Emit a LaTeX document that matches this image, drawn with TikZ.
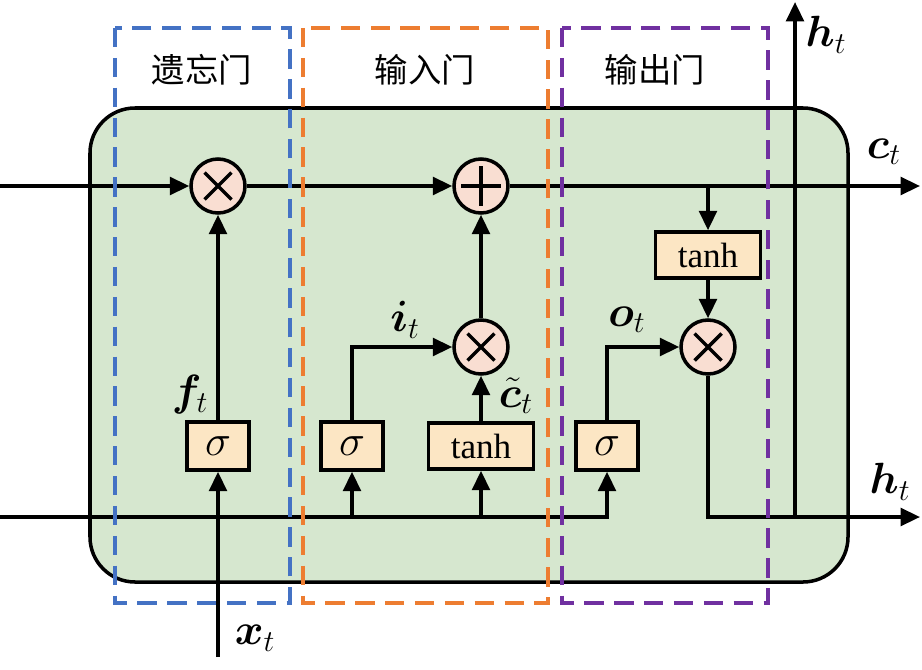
\documentclass[tikz,border=0pt]{standalone}
\usepackage{amsmath, bm}
\usepackage{fontspec}
\setmainfont{Liberation Serif}
\newfontfamily\cjk{Noto Sans CJK SC}
\usepackage{tikz}
\usetikzlibrary{arrows.meta, positioning}
\definecolor{CellGreen}{RGB}{214, 231, 207}
\definecolor{BoxFill}{RGB}{252, 230, 196}
\definecolor{CircFill}{RGB}{249, 222, 210}
\definecolor{ForgetBlue}{RGB}{68, 114, 196}
\definecolor{InputOrange}{RGB}{237, 125, 49}
\definecolor{OutputPurple}{RGB}{112, 48, 160}

\begin{document}
\begin{tikzpicture}[
    x=0.02cm, y=-0.02cm,
    wire/.style={line width=2pt},
    flow/.style={line width=2pt, -{Triangle[length=11pt, width=10pt]}},
    gatebox/.style={rectangle, draw, line width=2pt, fill=BoxFill, minimum width=1.24cm, minimum height=0.96cm, inner sep=0pt, font=\fontsize{23}{25}\selectfont},
    tanhbox/.style={gatebox, minimum width=2.1cm, minimum height=0.92cm, font=\fontsize{20}{22}\selectfont},
    mul/.style={circle, draw, line width=2pt, fill=CircFill, minimum size=1.08cm, inner sep=0pt,
      path picture={\draw[line width=2pt]
        ([shift={(-0.27cm,-0.27cm)}]path picture bounding box.center) -- ([shift={(0.27cm,0.27cm)}]path picture bounding box.center)
        ([shift={(-0.27cm,0.27cm)}]path picture bounding box.center) -- ([shift={(0.27cm,-0.27cm)}]path picture bounding box.center);}},
    add/.style={mul, path picture={\draw[line width=2pt]
        ([xshift=-0.4cm]path picture bounding box.center) -- ([xshift=0.4cm]path picture bounding box.center)
        ([yshift=-0.4cm]path picture bounding box.center) -- ([yshift=0.4cm]path picture bounding box.center);}},
    gatefrm/.style={line width=2pt, dash pattern=on 11pt off 6pt},
    title/.style={font=\cjk\fontsize{19}{21}\selectfont},
    lbl/.style={font=\fontsize{23}{25}\selectfont, inner sep=0pt}
  ]
  \useasboundingbox (0,0) rectangle (922,669);

  % cell body
  \draw[line width=2pt, fill=CellGreen, rounded corners=0.9cm] (90,108) rectangle (848,582);

  % operators and gates
  \node[mul] (fmul) at (218,186) {};
  \node[add] (cadd) at (481,186) {};
  \node[mul] (imul) at (481,347) {};
  \node[mul] (omul) at (708,347) {};
  \node[gatebox] (fsig) at (218,446) {$\sigma$};
  \node[gatebox] (isig) at (352,446) {$\sigma$};
  \node[tanhbox] (itanh) at (481,446) {tanh};
  \node[gatebox] (osig) at (607,446) {$\sigma$};
  \node[tanhbox] (otanh) at (708,255) {tanh};

  \coordinate (cin) at (0,186);
  \coordinate (cout) at (920,186);
  \coordinate (hin) at (0,517);
  \coordinate (hout) at (920,517);
  \coordinate (xin) at (218,657);
  \coordinate (htop) at (795,2);

  % cell state
  \draw[flow] (cin) -- (fmul);
  \draw[flow] (fmul) -- (cadd);
  \draw[flow] (cadd) -- (cout);
  \draw[flow] (otanh |- cadd) -- (otanh);
  \draw[flow] (otanh) -- (omul);

  % gates
  \draw[flow] (xin) -- (fsig);
  \draw[flow] (fsig) -- (fmul);
  \draw[flow] (hin) -| (osig);
  \draw[flow] (isig |- hin) -- (isig);
  \draw[flow] (itanh |- hin) -- (itanh);
  \draw[flow] (isig) |- (imul);
  \draw[flow] (itanh) -- (imul);
  \draw[flow] (imul) -- (cadd);
  \draw[flow] (osig) |- (omul);
  \draw[flow] (omul) |- (hout);
  \draw[flow] (htop |- hout) -- (htop);

  % labels
  \node[lbl] (ct) at (884,152) {$\bm{c}_t$};
  \node[lbl] (htlab) at (826,35) {$\bm{h}_t$};
  \node[lbl] (hrlab) at (890,482) {$\bm{h}_t$};
  \node[lbl] (otlab) at (627,320) {$\bm{o}_t$};
  \node[lbl] (itlab) at (405,320) {$\bm{i}_t$};
  \node[lbl] (ctlab) at (516,396) {$\tilde{\bm{c}}_t$};
  \node[lbl] (ftlab) at (190,395) {$\bm{f}_t$};
  \node[lbl] (xtlab) at (255,638) {$\bm{x}_t$};

  % gate frames
  \draw[gatefrm, draw=ForgetBlue] (115,28) rectangle (290,603);
  \draw[gatefrm, draw=InputOrange] (303,28) rectangle (548,603);
  \draw[gatefrm, draw=OutputPurple] (562,28) rectangle (768,603);
  \node[title] (ftitle) at (202,70) {遗忘门};
  \node[title] (ititle) at (425,70) {输入门};
  \node[title] (otitle) at (655,70) {输出门};
\end{tikzpicture}
\end{document}
